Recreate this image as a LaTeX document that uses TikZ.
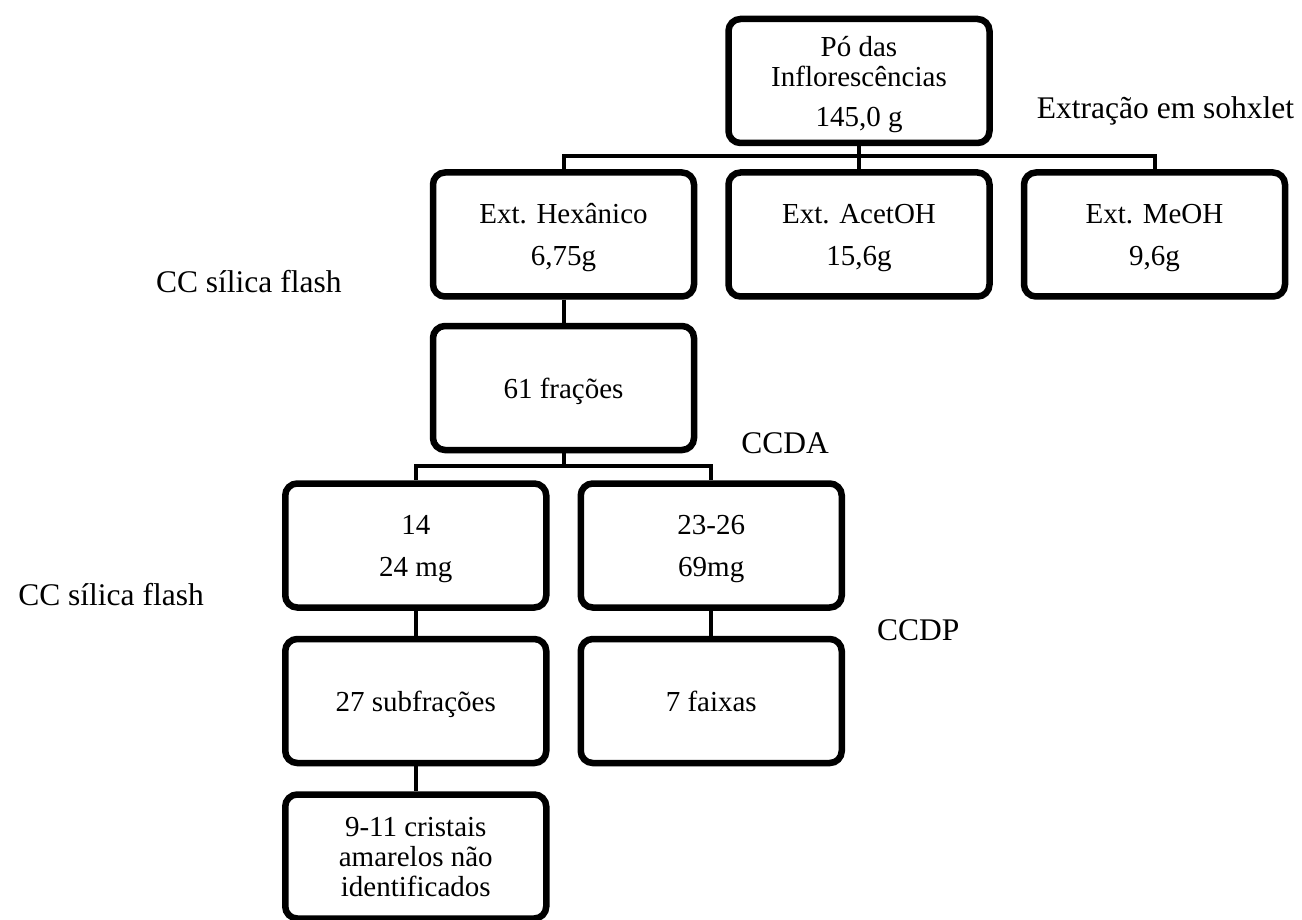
\documentclass[tikz,border=0pt]{standalone}
\usepackage{fontspec}
\setmainfont{Liberation Serif}
\usepackage{tikz}
\usetikzlibrary{positioning, calc, shadows}
\usepackage{xcolor}
\definecolor{boxline}{HTML}{000000}
\definecolor{boxshade}{HTML}{B8B8B8}
\tikzset{
  stagebox/.style={draw=boxline, fill=white, rounded corners=12pt, align=center,
                   line width=6.5pt, minimum width=261pt, minimum height=124pt,
                   inner sep=0pt, text depth=-6pt, font=\fontsize{29}{30}\selectfont,
                   drop shadow={shadow xshift=2pt, shadow yshift=-3pt, fill=boxshade, opacity=0.6}},
  link/.style={draw=boxline, line width=4pt},
  steplabel/.style={font=\fontsize{31.5}{33}\selectfont, inner sep=0pt},
}

\begin{document}
\begin{tikzpicture}[x=1pt, y=1pt]

\useasboundingbox (0,0) rectangle (1302,-920);

%% ====================  RAW MATERIAL  ====================

\node[stagebox] (po) at (859,-81) {P\'o das\\Infloresc\^encias\\[10pt]145,0 g};

%% ====================  EXTRACTS  ====================

\node[stagebox, below=23pt of po]   (acet) {Ext. AcetOH\\[12pt]15,6g};
\node[stagebox, left=28pt of acet]  (hex)  {Ext. Hex\^anico\\[12pt]6,75g};
\node[stagebox, right=28pt of acet] (meoh) {Ext. MeOH\\[12pt]9,6g};

%% ====================  FRACTIONS  ====================

\node[stagebox, below=23pt of hex] (frac) {61 fra\c{c}\~oes};

\node[stagebox, below left=27pt and 14pt of frac.south]  (f14) {14\\[12pt]24 mg};
\node[stagebox, below right=27pt and 14pt of frac.south] (f23) {23-26\\[12pt]69mg};

\node[stagebox, below=25pt of f14] (sub)    {27 subfra\c{c}\~oes};
\node[stagebox, below=25pt of f23] (faixas) {7 faixas};
\node[stagebox, below=25pt of sub] (crist)  {9-11 cristais\\amarelos n\~ao\\identificados};

%% ====================  METHOD LABELS  ====================

\node[steplabel, anchor=base west] (soxh)
  at ($(po.south east)+(44,28)$) {Extra\c{c}\~ao em sohxlet};
\node[steplabel, anchor=base east] (cc1)
  at ($(hex.south west)+(-88,7)$) {CC s\'ilica flash};
\node[steplabel, anchor=base east] (cc2)
  at ($(f14.south west)+(-78,5)$) {CC s\'ilica flash};
\node[steplabel, anchor=base west] (ccda)
  at ($(frac.south east)+(44,0)$) {CCDA};
\node[steplabel, anchor=base west] (ccdp)
  at ($(f23.south east)+(32,-30)$) {CCDP};

%% ====================  CONNECTORS  ====================

\draw[link] (po.south) -- ++(0,-10) -| (hex.north);
\draw[link] (po.south) -- ++(0,-10) -| (meoh.north);
\draw[link] (po.south) -- (acet.north);

\draw[link] (hex.south) -- (frac.north);

\draw[link] (frac.south) -- ++(0,-13) -| (f14.north);
\draw[link] (frac.south) -- ++(0,-13) -| (f23.north);

\draw[link] (f14.south) -- (sub.north);
\draw[link] (sub.south) -- (crist.north);
\draw[link] (f23.south) -- (faixas.north);

\end{tikzpicture}
\end{document}
